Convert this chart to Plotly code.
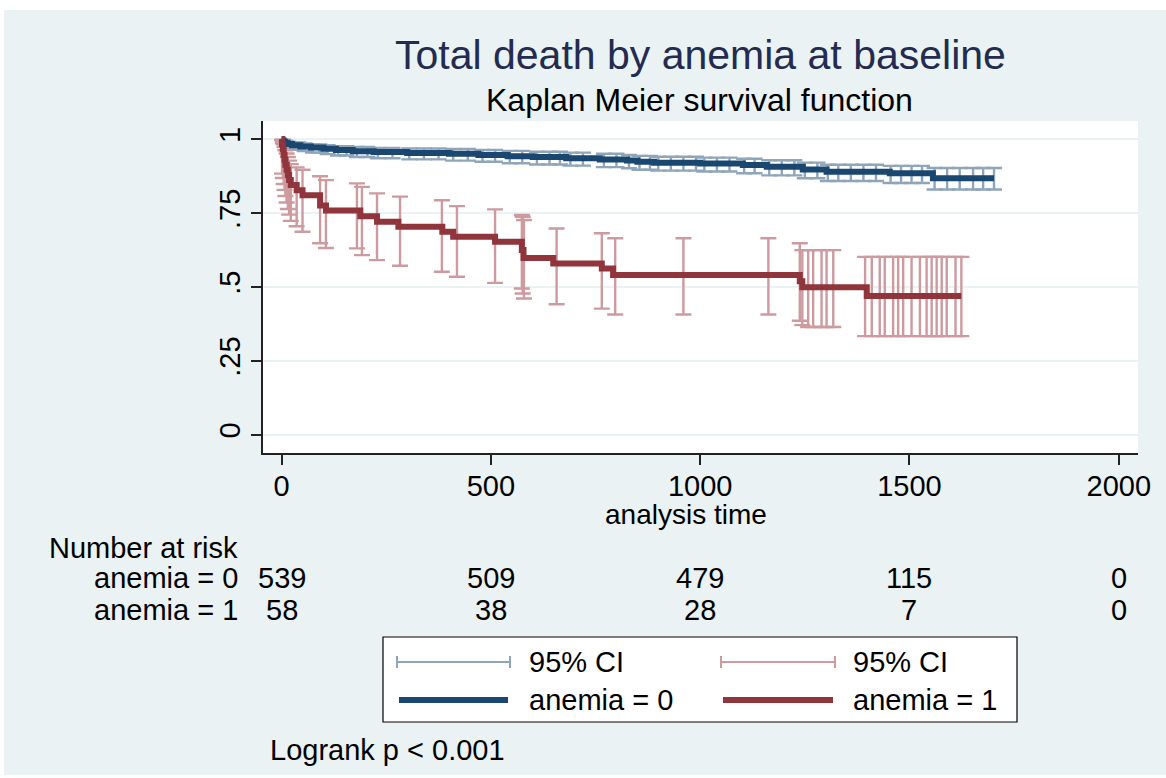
import plotly.graph_objects as go

# ---------------- data ----------------
# Kaplan-Meier step estimates, anemia = 0
t0 = [0, 2, 5, 8, 14, 25, 45, 70, 100, 130, 170, 220, 300, 400, 470, 540, 600, 680,
      760, 825, 850, 890, 1000, 1102, 1159, 1245, 1302, 1453, 1556, 1702]
s0 = [1.0, .996, .992, .988, .984, .980, .976, .972, .968, .964, .960, .957, .954, .951,
      .947, .943, .940, .936, .932, .928, .924, .921, .918, .913, .907, .898, .890, .885,
      .868, .868]

# Kaplan-Meier step estimates, anemia = 1
t1 = [0, 1, 3, 5, 7, 9, 12, 15, 18, 22, 36, 50, 92, 106, 188, 228, 279, 384, 410, 510,
      574, 578, 649, 765, 792, 1238, 1244, 1398, 1624]
s1 = [1.0, .983, .966, .948, .931, .914, .897, .879, .862, .845, .828, .811, .776, .759,
      .740, .721, .704, .687, .670, .653, .625, .598, .580, .563, .541, .520, .499, .470,
      .470]

# 95% CI caps, anemia = 0
ci0_t = [3, 9, 16, 26, 40, 55, 75, 90, 110, 135, 155, 180, 205, 230, 265, 305, 340, 375,
         410, 445, 480, 510, 545, 575, 610, 640, 665, 690, 720, 770, 800, 830, 855, 880,
         900, 930, 960, 990, 1010, 1040, 1070, 1105, 1130, 1165, 1195, 1225, 1250, 1280,
         1305, 1330, 1360, 1390, 1420, 1455, 1480, 1505, 1530, 1560, 1590, 1620, 1652,
         1676, 1702]
ci0_lo = [.987, .975, .970, .965, .965, .960, .955, .955, .950, .945, .945, .940, .940,
          .936, .936, .932, .932, .932, .928, .928, .924, .924, .919, .919, .915, .915,
          .915, .911, .911, .906, .906, .902, .897, .897, .894, .894, .894, .894, .891,
          .891, .891, .885, .885, .878, .878, .878, .868, .868, .859, .859, .859, .859,
          .859, .852, .852, .852, .852, .830, .830, .830, .830, .830, .830]
ci0_hi = [.999, .995, .992, .989, .989, .986, .983, .983, .980, .977, .977, .974, .974,
          .971, .971, .969, .969, .969, .967, .967, .964, .964, .961, .961, .958, .958,
          .958, .955, .955, .951, .951, .947, .944, .944, .941, .941, .941, .941, .938,
          .938, .938, .934, .934, .929, .929, .929, .921, .921, .914, .914, .914, .914,
          .914, .910, .910, .910, .910, .903, .903, .903, .903, .903, .903]

# 95% CI caps, anemia = 1
ci1_t = [1, 3, 5, 7, 9, 12, 15, 18, 22, 36, 50, 92, 106, 180, 192, 228, 283, 383, 419,
         510, 574, 576, 579, 657, 765, 797, 960, 1163, 1238, 1244, 1258, 1270, 1290, 1302,
         1318, 1394, 1410, 1429, 1441, 1461, 1473, 1485, 1505, 1525, 1541, 1553, 1565,
         1577, 1589, 1610, 1624]
ci1_lo = [.884, .869, .849, .829, .808, .786, .764, .745, .724, .706, .687, .648, .632,
          .631, .608, .591, .572, .552, .535, .514, .495, .478, .461, .442, .427, .407,
          .407, .407, .386, .371, .365, .365, .365, .365, .365, .334, .334, .334, .334,
          .334, .334, .334, .334, .334, .334, .334, .334, .334, .334, .334, .334]
ci1_hi = [.998, .991, .983, .974, .963, .952, .940, .928, .916, .905, .897, .875, .862,
          .851, .839, .817, .806, .794, .774, .763, .744, .738, .727, .698, .682, .665,
          .665, .665, .648, .625, .625, .625, .625, .625, .625, .602, .602, .602, .602,
          .602, .602, .602, .602, .602, .602, .602, .602, .602, .602, .602, .602]

# Number-at-risk table
risk_times = [0, 500, 1000, 1500, 2000]
risk0 = [539, 509, 479, 115, 0]
risk1 = [58, 38, 28, 7, 0]
y_ticks = [0, 0.25, 0.5, 0.75, 1]
y_ticklabels = ["0", ".25", ".5", ".75", "1"]

# ---------------- style ----------------
NAVY = "#1A476F"
MAROON = "#90353B"
CI0 = "#8FA5BA"
CI1 = "#CD9B9F"
BG = "#EAF2F3"
FONT = "Liberation Sans, Arial, sans-serif"
TS = 29  # general text size

W, H = 1166, 778
L, R, T, B = 263, 28, 121, 325
PW, PH = W - L - R, H - T - B


def px(x):
    return (x - L) / PW


def py(y):
    return (H - B - y) / PH


fig = go.Figure()


def ci_trace(t, lo, hi, color):
    return go.Scatter(
        x=t, y=lo, mode="markers", marker=dict(size=1, color="rgba(0,0,0,0)"),
        error_y=dict(type="data", symmetric=False,
                     array=[h - l for h, l in zip(hi, lo)],
                     arrayminus=[0] * len(lo),
                     color=color, thickness=2.4, width=8),
        hoverinfo="skip", showlegend=False)


fig.add_trace(ci_trace(ci0_t, ci0_lo, ci0_hi, CI0))
fig.add_trace(ci_trace(ci1_t, ci1_lo, ci1_hi, CI1))
fig.add_trace(go.Scatter(x=t0, y=s0, mode="lines", line=dict(color=NAVY, width=6, shape="hv"),
                         hoverinfo="skip", showlegend=False))
fig.add_trace(go.Scatter(x=t1, y=s1, mode="lines", line=dict(color=MAROON, width=6, shape="hv"),
                         hoverinfo="skip", showlegend=False))

shapes = []
# white page edges
shapes.append(dict(type="rect", xref="paper", yref="paper", x0=px(0), x1=px(W), y0=py(0), y1=py(10),
                   fillcolor="white", line=dict(width=0), layer="above"))
shapes.append(dict(type="rect", xref="paper", yref="paper", x0=px(0), x1=px(4), y0=py(0), y1=py(H),
                   fillcolor="white", line=dict(width=0), layer="above"))
shapes.append(dict(type="rect", xref="paper", yref="paper", x0=px(0), x1=px(W), y0=py(775), y1=py(H),
                   fillcolor="white", line=dict(width=0), layer="above"))

# legend box
shapes.append(dict(type="rect", xref="paper", yref="paper", x0=px(383), x1=px(1017), y0=py(637), y1=py(722),
                   fillcolor="white", line=dict(color="black", width=1.2), layer="above"))


def ci_symbol(x0, x1, y, color):
    out = [dict(type="line", xref="paper", yref="paper", x0=px(x0), x1=px(x1), y0=py(y), y1=py(y),
                line=dict(color=color, width=2), layer="above")]
    for xx in (x0, x1):
        out.append(dict(type="line", xref="paper", yref="paper", x0=px(xx), x1=px(xx),
                        y0=py(y - 6), y1=py(y + 6), line=dict(color=color, width=2), layer="above"))
    return out


shapes += ci_symbol(397, 510, 662, CI0)
shapes += ci_symbol(721, 835, 662, CI1)
shapes.append(dict(type="line", xref="paper", yref="paper", x0=px(399), x1=px(508), y0=py(700), y1=py(700),
                   line=dict(color=NAVY, width=6), layer="above"))
shapes.append(dict(type="line", xref="paper", yref="paper", x0=px(723), x1=px(833), y0=py(700), y1=py(700),
                   line=dict(color=MAROON, width=6), layer="above"))

ann = []


def text(x, y, s, size=TS, xanchor="left", color="black", xref="paper"):
    ann.append(dict(x=(x if xref == "x" else px(x)), y=py(y), xref=xref, yref="paper", text=s,
                    showarrow=False, xanchor=xanchor, yanchor="middle",
                    font=dict(family=FONT, size=size, color=color)))


text(700, 55, "Total death by anemia at baseline", size=41, xanchor="center", color="#232B50")
text(699, 100, "Kaplan Meier survival function", size=32, xanchor="center")
text(686, 514, "analysis time", size=28, xanchor="center")
text(47, 548, "Number at risk")
text(240, 578, "anemia = 0", xanchor="right")
text(240, 610, "anemia = 1", xanchor="right")
for tt, a, b in zip(risk_times, risk0, risk1):
    text(tt, 578, str(a), xanchor="center", xref="x")
    text(tt, 610, str(b), xanchor="center", xref="x")
text(527, 662, "95% CI")
text(851, 662, "95% CI")
text(527, 700, "anemia = 0")
text(851, 700, "anemia = 1")
text(268, 750, "Logrank p < 0.001")

fig.update_layout(
    width=W, height=H,
    margin=dict(l=L, r=R, t=T, b=B, pad=0),
    paper_bgcolor=BG, plot_bgcolor="white",
    font=dict(family=FONT, size=TS, color="black"),
    showlegend=False, hovermode=False,
    shapes=shapes, annotations=ann,
    xaxis=dict(range=[-44.4, 2046], tickvals=risk_times, ticks="outside", ticklen=10,
               tickwidth=1.5, tickcolor="#222", showline=True, linecolor="#222", linewidth=1.5,
               showgrid=False, zeroline=False, tickfont=dict(size=TS), ticklabelstandoff=-4),
    yaxis=dict(range=[-0.0617, 1.062], tickvals=y_ticks, ticktext=y_ticklabels, tickangle=-90,
               ticks="outside", ticklen=10, tickwidth=1.5, tickcolor="#222", showline=True,
               linecolor="#222", linewidth=1.5, showgrid=True, gridcolor=BG, gridwidth=2,
               zeroline=False, tickfont=dict(size=TS)),
)

fig.write_html("out.html", config={"displayModeBar": False},
               post_script="document.body.style.margin='0';")
